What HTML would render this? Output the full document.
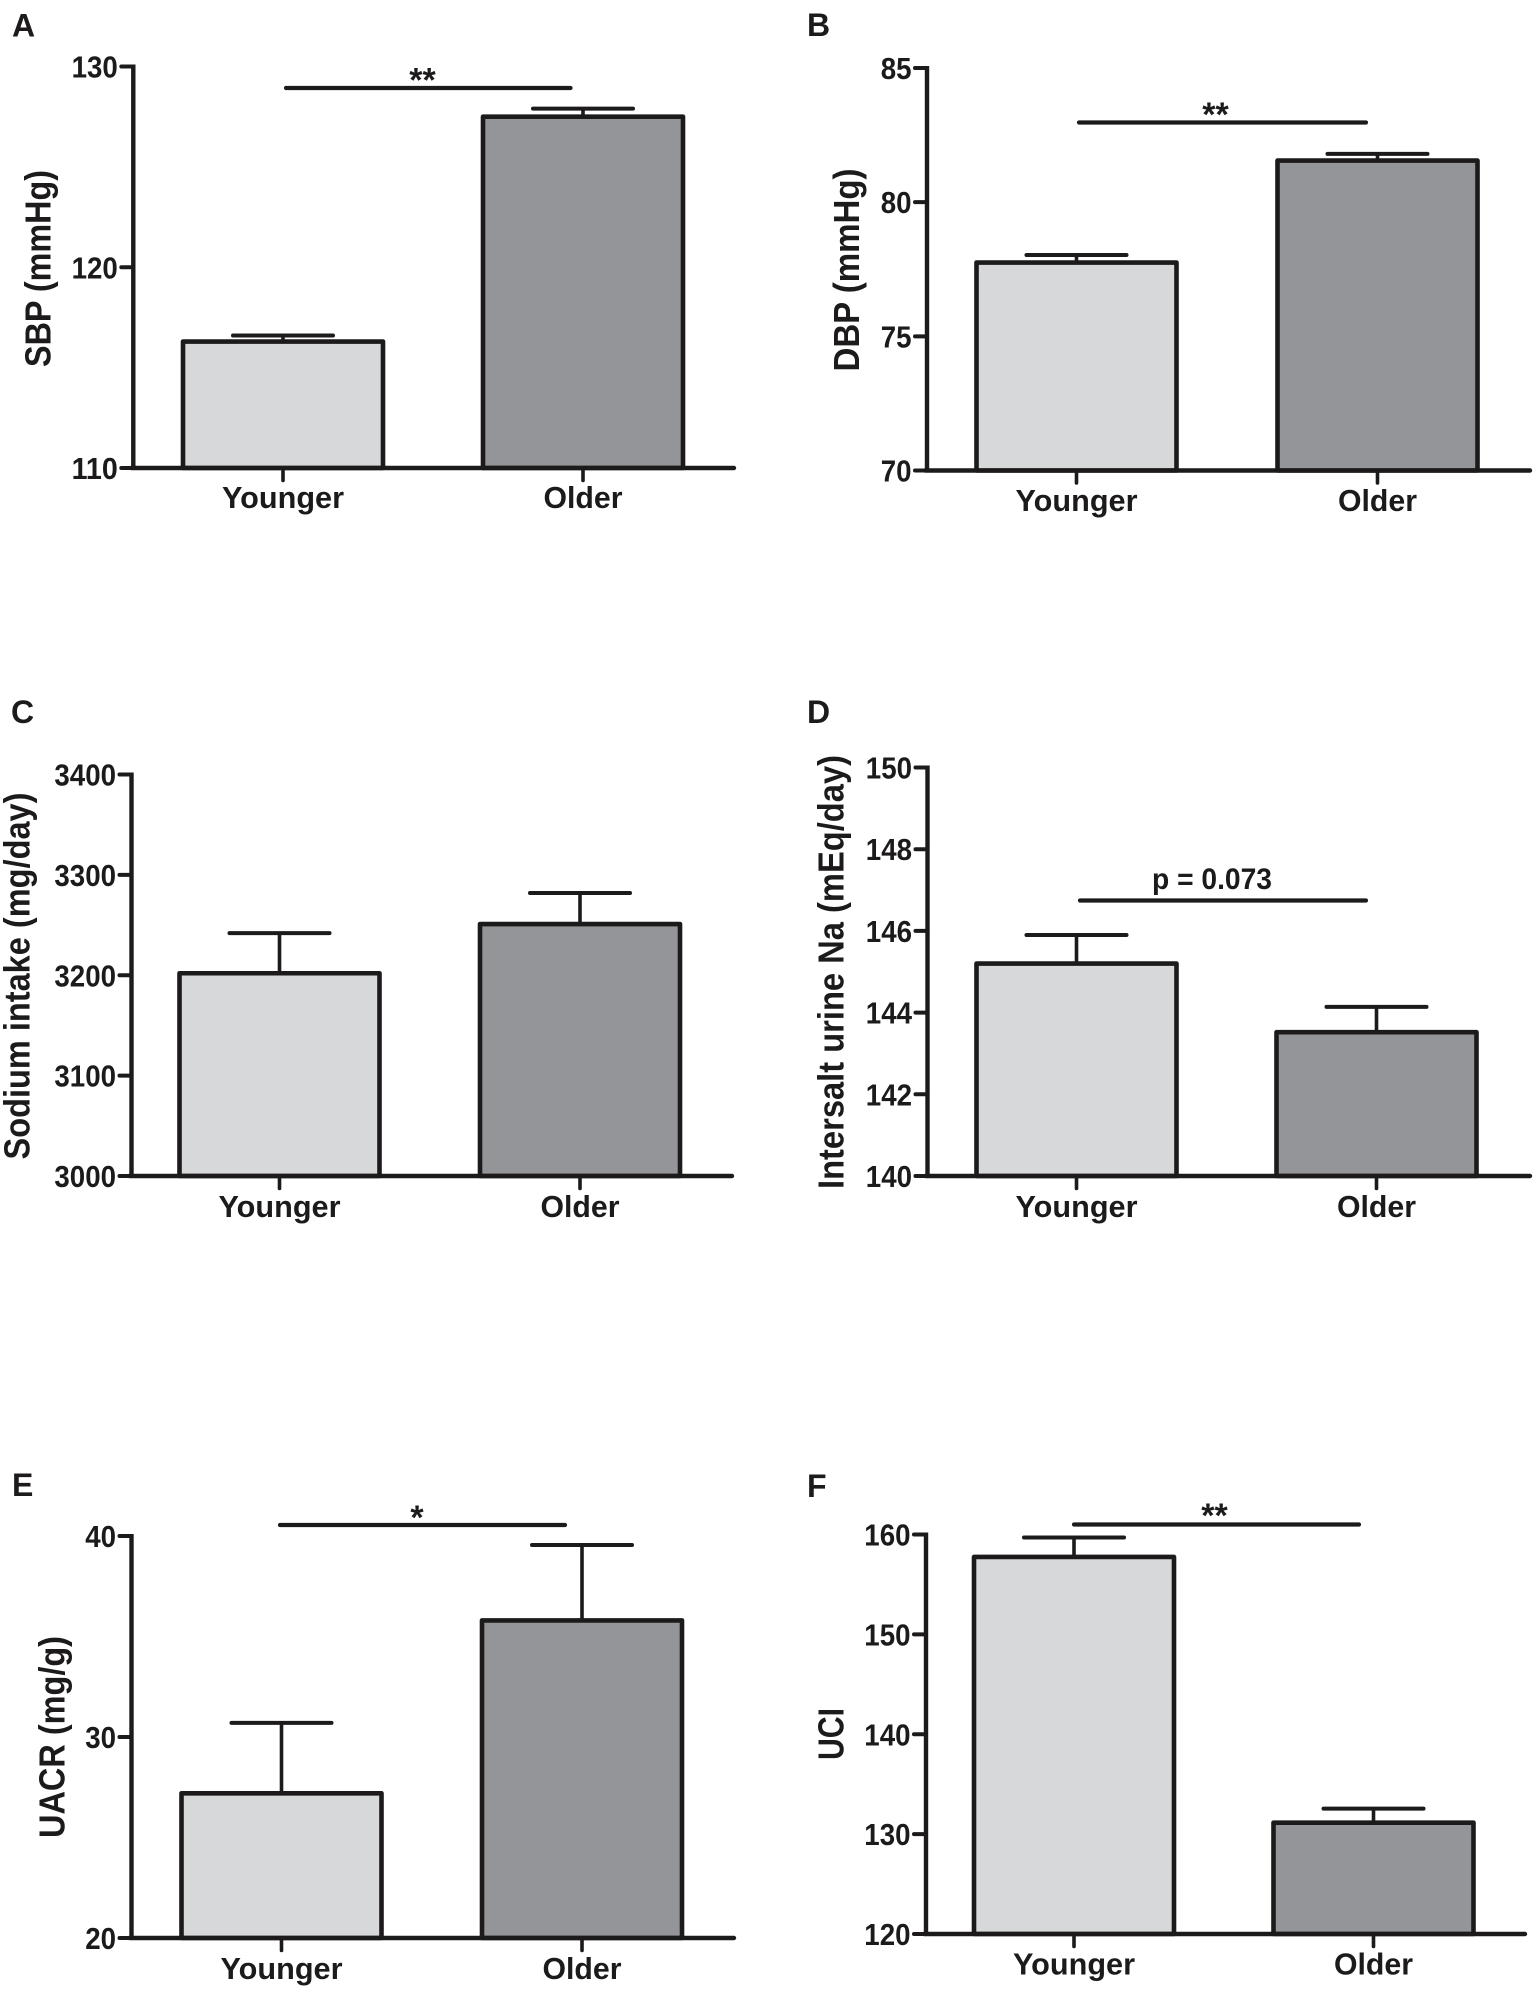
<!DOCTYPE html>
<html lang="en">
<head>
<meta charset="utf-8">
<title>Blood pressure and sodium measures in younger and older groups</title>
<style>
html,body{margin:0;padding:0;background:#fff;}
svg{display:block;}
text{font-family:"Liberation Sans",Arial,sans-serif;font-weight:bold;fill:#1c1a1b;}
</style>
</head>
<body>
<svg id="figure" xmlns="http://www.w3.org/2000/svg" width="1535" height="1991" viewBox="0 0 1535 1991">
  <rect x="0" y="0" width="1535" height="1991" fill="#ffffff"/>

  <text x="12" y="36.7" font-size="32">A</text>
  <text x="807" y="36" font-size="32">B</text>
  <text x="11" y="723" font-size="32">C</text>
  <text x="807" y="723" font-size="32">D</text>
  <text x="12" y="1496" font-size="32">E</text>
  <text x="807" y="1497" font-size="32">F</text>

  <text transform="translate(50.5,268.5) rotate(-90)" text-anchor="middle" font-size="36.5" textLength="197" lengthAdjust="spacingAndGlyphs">SBP (mmHg)</text>
  <text transform="translate(859,270) rotate(-90)" text-anchor="middle" font-size="36.5" textLength="203" lengthAdjust="spacingAndGlyphs">DBP (mmHg)</text>
  <text transform="translate(29.5,976) rotate(-90)" text-anchor="middle" font-size="36.5" textLength="367" lengthAdjust="spacingAndGlyphs">Sodium intake (mg/day)</text>
  <text transform="translate(843.5,972) rotate(-90)" text-anchor="middle" font-size="36.5" textLength="434" lengthAdjust="spacingAndGlyphs">Intersalt urine Na (mEq/day)</text>
  <text transform="translate(64.5,1737) rotate(-90)" text-anchor="middle" font-size="36.5" textLength="202" lengthAdjust="spacingAndGlyphs">UACR (mg/g)</text>
  <text transform="translate(843.5,1734) rotate(-90)" text-anchor="middle" font-size="36.5" textLength="52" lengthAdjust="spacingAndGlyphs">UCI</text>

  <g id="plots"></g>

  <g fill="none" stroke="#1c1a1b" stroke-width="4.2" stroke-linecap="round">
    <line x1="286" y1="88" x2="570.5" y2="88"/>
    <line x1="1079" y1="122.5" x2="1366" y2="122.5"/>
    <line x1="1080" y1="900.5" x2="1366" y2="900.5"/>
    <line x1="280" y1="1525" x2="565" y2="1525"/>
    <line x1="1074" y1="1524.5" x2="1359" y2="1524.5"/>
  </g>
  <text x="422.5" y="91.5" text-anchor="middle" font-size="34">**</text>
  <text x="1215.5" y="126" text-anchor="middle" font-size="34">**</text>
  <text x="1212" y="889" text-anchor="middle" font-size="30" textLength="120" lengthAdjust="spacingAndGlyphs">p = 0.073</text>
  <text x="417" y="1529" text-anchor="middle" font-size="34">*</text>
  <text x="1214.5" y="1527" text-anchor="middle" font-size="34">**</text>
</svg>

<script>
const categories = ['Younger', 'Older'];

const sbpMeans = [116.3, 127.5];
const sbpUpper = [116.6, 127.9];
const sbpTicks = [110, 120, 130];

const dbpMeans = [77.75, 81.55];
const dbpUpper = [78.03, 81.8];
const dbpTicks = [70, 75, 80, 85];

const sodiumMeans = [3202, 3251];
const sodiumUpper = [3242, 3282];
const sodiumTicks = [3000, 3100, 3200, 3300, 3400];

const urineNaMeans = [145.2, 143.52];
const urineNaUpper = [145.9, 144.14];
const urineNaTicks = [140, 142, 144, 146, 148, 150];

const uacrMeans = [27.2, 35.8];
const uacrUpper = [30.7, 39.55];
const uacrTicks = [20, 30, 40];

const uciMeans = [157.75, 131.15];
const uciUpper = [159.7, 132.55];
const uciTicks = [120, 130, 140, 150, 160];

const INK = '#1c1a1b';
const FILLS = ['#d7d8da', '#939598'];
const SVGNS = 'http://www.w3.org/2000/svg';
const BAR_WIDTH = 200;
const CAP_WIDTH = 100;
const plotsRoot = document.getElementById('plots');

function mk(tag, attrs, parent) {
  const node = document.createElementNS(SVGNS, tag);
  Object.keys(attrs).forEach(function (k) { node.setAttribute(k, attrs[k]); });
  parent.appendChild(node);
  return node;
}

function drawPanel(id, means, upper, ticks, frame) {
  const low = ticks[0];
  const high = ticks[ticks.length - 1];
  const yScale = function (v) {
    return frame.yBottom - (v - low) / (high - low) * (frame.yBottom - frame.yTop);
  };
  const xBand = function (i) { return frame.centers[i]; };

  const g = mk('g', {}, plotsRoot);
  
  

  categories.forEach(function (cat, i) {
    const cx = xBand(i);
    const key = cat.toLowerCase();

    const stem = mk('line', { x1: cx, x2: cx, y1: yScale(means[i]), y2: yScale(upper[i]), stroke: INK, 'stroke-width': 3.6 }, g);
    
    

    const cap = mk('line', { x1: cx - CAP_WIDTH / 2, x2: cx + CAP_WIDTH / 2, y1: yScale(upper[i]), y2: yScale(upper[i]), stroke: INK, 'stroke-width': 4, 'stroke-linecap': 'round' }, g);
    
    

    const bar = mk('rect', { x: cx - BAR_WIDTH / 2, y: yScale(means[i]), width: BAR_WIDTH, height: yScale(low) - yScale(means[i]), fill: FILLS[i], stroke: INK, 'stroke-width': 4.6, 'stroke-linejoin': 'round' }, g);
    
    

    const xTick = mk('line', { x1: cx, x2: cx, y1: frame.yBottom, y2: frame.yBottom + 12.5, stroke: INK, 'stroke-width': 3.6, 'stroke-linecap': 'round' }, g);
    
    

    const xLabel = mk('text', { x: cx, y: frame.labelBaseline, 'text-anchor': 'middle', 'font-size': 30.5, textLength: i === 0 ? 122 : 79, lengthAdjust: 'spacingAndGlyphs' }, g);
    xLabel.textContent = cat;
    
    
  });

  const yAxis = mk('line', { x1: frame.xAxis, x2: frame.xAxis, y1: yScale(high) - 2, y2: yScale(low) + 2, stroke: INK, 'stroke-width': 4.4 }, g);
  
  

  const xAxis = mk('line', { x1: frame.xAxis - 2, x2: frame.xEnd, y1: yScale(low), y2: yScale(low), stroke: INK, 'stroke-width': 4.4, 'stroke-linecap': 'round' }, g);
  
  

  ticks.forEach(function (t) {
    const tick = mk('line', { x1: frame.xAxis - 12, x2: frame.xAxis, y1: yScale(t), y2: yScale(t), stroke: INK, 'stroke-width': 4, 'stroke-linecap': 'round' }, g);
    
    

    const label = mk('text', { x: frame.xAxis - 15.5, y: yScale(t) + 11, 'text-anchor': 'end', 'font-size': 30.5, textLength: String(t).length * 15.4, lengthAdjust: 'spacingAndGlyphs' }, g);
    label.textContent = String(t);
    
    
  });
}

drawPanel('sbp', sbpMeans, sbpUpper, sbpTicks, { xAxis: 133.3, xEnd: 734, yTop: 66.5, yBottom: 468, centers: [283, 583], labelBaseline: 508 });
drawPanel('dbp', dbpMeans, dbpUpper, dbpTicks, { xAxis: 927, xEnd: 1530, yTop: 68, yBottom: 470.5, centers: [1076.5, 1377.5], labelBaseline: 511 });
drawPanel('sodium', sodiumMeans, sodiumUpper, sodiumTicks, { xAxis: 131.5, xEnd: 732, yTop: 774.5, yBottom: 1176, centers: [279.5, 580], labelBaseline: 1217 });
drawPanel('urine-na', urineNaMeans, urineNaUpper, urineNaTicks, { xAxis: 927.5, xEnd: 1530, yTop: 767.5, yBottom: 1176, centers: [1076.5, 1376.5], labelBaseline: 1217 });
drawPanel('uacr', uacrMeans, uacrUpper, uacrTicks, { xAxis: 131.5, xEnd: 734, yTop: 1536, yBottom: 1938, centers: [281.5, 582], labelBaseline: 1979 });
drawPanel('uci', uciMeans, uciUpper, uciTicks, { xAxis: 926, xEnd: 1525, yTop: 1534.5, yBottom: 1934, centers: [1074, 1373.5], labelBaseline: 1974.5 });
</script>
</body>
</html>
